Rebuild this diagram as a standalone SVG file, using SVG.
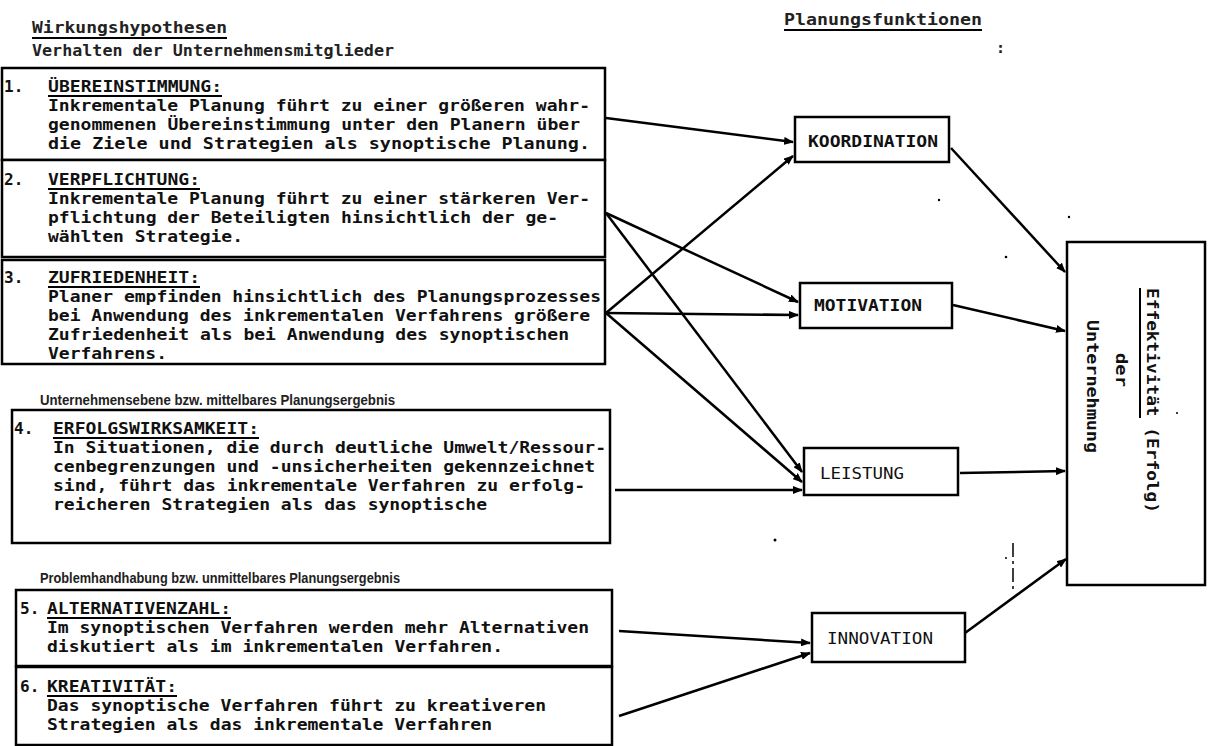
<svg xmlns="http://www.w3.org/2000/svg" width="1215" height="746" viewBox="0 0 1215 746">
<style>
.bg{fill:#fff}
.box{fill:#fff;stroke:#000;stroke-width:2.5}
.t{font-family:"DejaVu Sans Mono","Liberation Mono",monospace;font-weight:bold;font-size:16px;fill:#111}
.tn{font-family:"DejaVu Sans Mono","Liberation Mono",monospace;font-weight:normal;font-size:16px;fill:#111}
.h{font-family:"DejaVu Sans Mono","Liberation Mono",monospace;font-weight:bold;font-size:15px;fill:#222}
.sh{font-family:"Liberation Sans",Arial,sans-serif;font-weight:bold;font-size:14px;fill:#222}
.ul{stroke:#000;stroke-width:2}
.c{fill:none;stroke:#000;stroke-width:2.5;marker-end:url(#ah)}
</style>
<defs>
<marker id="ah" viewBox="0 0 10 8" refX="9" refY="4" markerWidth="10" markerHeight="8" markerUnits="userSpaceOnUse" orient="auto">
<path d="M0,0 L10,4 L0,8 z" fill="#000"/>
</marker>
</defs>
<rect class="bg" x="0" y="0" width="1215" height="746"/>

<g id="headings">
<text class="h" x="32" y="33" textLength="195" lengthAdjust="spacingAndGlyphs">Wirkungshypothesen</text>
<line class="ul" x1="32" y1="38" x2="227" y2="38"/>
<text class="h" x="32" y="56" textLength="362" lengthAdjust="spacingAndGlyphs">Verhalten der Unternehmensmitglieder</text>
<text class="h" x="784" y="25" textLength="198" lengthAdjust="spacingAndGlyphs">Planungsfunktionen</text>
<line class="ul" x1="784" y1="30" x2="982" y2="30"/>
<text class="h" x="996" y="53">:</text>
</g>

<g id="n1">
<rect class="box" x="2" y="68" width="603" height="92"/>
<text class="t" x="4" y="92">1.</text>
<text class="t" x="48" y="92" textLength="174" lengthAdjust="spacingAndGlyphs">ÜBEREINSTIMMUNG:</text>
<line class="ul" x1="48" y1="96" x2="222" y2="96"/>
<text class="t" x="48" y="111" textLength="542" lengthAdjust="spacingAndGlyphs">Inkrementale Planung führt zu einer größeren wahr-</text>
<text class="t" x="48" y="130" textLength="532" lengthAdjust="spacingAndGlyphs">genommenen Übereinstimmung unter den Planern über</text>
<text class="t" x="48" y="149" textLength="542" lengthAdjust="spacingAndGlyphs">die Ziele und Strategien als synoptische Planung.</text>
</g>

<g id="n2">
<rect class="box" x="2" y="160" width="603" height="97"/>
<text class="t" x="4" y="185">2.</text>
<text class="t" x="48" y="185" textLength="152" lengthAdjust="spacingAndGlyphs">VERPFLICHTUNG:</text>
<line class="ul" x1="48" y1="189" x2="200" y2="189"/>
<text class="t" x="48" y="204" textLength="542" lengthAdjust="spacingAndGlyphs">Inkrementale Planung führt zu einer stärkeren Ver-</text>
<text class="t" x="48" y="223" textLength="510" lengthAdjust="spacingAndGlyphs">pflichtung der Beteiligten hinsichtlich der ge-</text>
<text class="t" x="48" y="242" textLength="195" lengthAdjust="spacingAndGlyphs">wählten Strategie.</text>
</g>

<g id="n3">
<rect class="box" x="2" y="260" width="603" height="104"/>
<text class="t" x="4" y="283">3.</text>
<text class="t" x="48" y="283" textLength="152" lengthAdjust="spacingAndGlyphs">ZUFRIEDENHEIT:</text>
<line class="ul" x1="48" y1="287" x2="200" y2="287"/>
<text class="t" x="48" y="302" textLength="553" lengthAdjust="spacingAndGlyphs">Planer empfinden hinsichtlich des Planungsprozesses</text>
<text class="t" x="48" y="321" textLength="542" lengthAdjust="spacingAndGlyphs">bei Anwendung des inkrementalen Verfahrens größere</text>
<text class="t" x="48" y="340" textLength="521" lengthAdjust="spacingAndGlyphs">Zufriedenheit als bei Anwendung des synoptischen</text>
<text class="t" x="48" y="359" textLength="119" lengthAdjust="spacingAndGlyphs">Verfahrens.</text>
</g>

<g id="n4">
<text class="sh" x="40" y="405" textLength="355" lengthAdjust="spacingAndGlyphs">Unternehmensebene bzw. mittelbares Planungsergebnis</text>
<rect class="box" x="12" y="410" width="598" height="133"/>
<text class="t" x="14" y="434">4.</text>
<text class="t" x="53" y="434" textLength="206" lengthAdjust="spacingAndGlyphs">ERFOLGSWIRKSAMKEIT:</text>
<line class="ul" x1="53" y1="438" x2="259" y2="438"/>
<text class="t" x="53" y="453" textLength="553" lengthAdjust="spacingAndGlyphs">In Situationen, die durch deutliche Umwelt/Ressour-</text>
<text class="t" x="53" y="472" textLength="542" lengthAdjust="spacingAndGlyphs">cenbegrenzungen und -unsicherheiten gekennzeichnet</text>
<text class="t" x="53" y="491" textLength="532" lengthAdjust="spacingAndGlyphs">sind, führt das inkrementale Verfahren zu erfolg-</text>
<text class="t" x="53" y="510" textLength="434" lengthAdjust="spacingAndGlyphs">reicheren Strategien als das synoptische</text>
</g>

<g id="n5">
<text class="sh" x="40" y="583" textLength="360" lengthAdjust="spacingAndGlyphs">Problemhandhabung bzw. unmittelbares Planungsergebnis</text>
<rect class="box" x="16" y="590" width="596" height="76"/>
<text class="t" x="20" y="614">5.</text>
<text class="t" x="47" y="614" textLength="184" lengthAdjust="spacingAndGlyphs">ALTERNATIVENZAHL:</text>
<line class="ul" x1="47" y1="618" x2="231" y2="618"/>
<text class="t" x="47" y="633" textLength="542" lengthAdjust="spacingAndGlyphs">Im synoptischen Verfahren werden mehr Alternativen</text>
<text class="t" x="47" y="652" textLength="456" lengthAdjust="spacingAndGlyphs">diskutiert als im inkrementalen Verfahren.</text>
</g>

<g id="n6">
<rect class="box" x="16" y="667" width="596" height="78"/>
<text class="t" x="20" y="692">6.</text>
<text class="t" x="47" y="692" textLength="130" lengthAdjust="spacingAndGlyphs">KREATIVITÄT:</text>
<line class="ul" x1="47" y1="696" x2="177" y2="696"/>
<text class="t" x="47" y="711" textLength="499" lengthAdjust="spacingAndGlyphs">Das synoptische Verfahren führt zu kreativeren</text>
<text class="t" x="47" y="730" textLength="445" lengthAdjust="spacingAndGlyphs">Strategien als das inkrementale Verfahren</text>
</g>

<g id="koordination">
<rect class="box" x="795" y="117" width="154" height="45"/>
<text class="t" x="808" y="147" textLength="130" lengthAdjust="spacingAndGlyphs">KOORDINATION</text>
</g>
<g id="motivation">
<rect class="box" x="800" y="283" width="152" height="45"/>
<text class="t" x="814" y="311" textLength="108" lengthAdjust="spacingAndGlyphs">MOTIVATION</text>
</g>
<g id="leistung">
<rect class="box" x="804" y="448" width="154" height="47"/>
<text class="tn" x="820" y="479" textLength="84" lengthAdjust="spacingAndGlyphs">LEISTUNG</text>
</g>
<g id="innovation">
<rect class="box" x="812" y="613" width="153" height="49"/>
<text class="tn" x="827" y="644" textLength="106" lengthAdjust="spacingAndGlyphs">INNOVATION</text>
</g>

<g id="effektivitaet">
<rect class="box" x="1067" y="242" width="138" height="343"/>
<text class="t" transform="translate(1147,288) rotate(90)" textLength="225" lengthAdjust="spacingAndGlyphs">Effektivität (Erfolg)</text>
<line class="ul" x1="1140" y1="288" x2="1140" y2="418"/>
<text class="t" transform="translate(1116,353) rotate(90)" textLength="34" lengthAdjust="spacingAndGlyphs">der</text>
<text class="t" transform="translate(1087,320) rotate(90)" textLength="133" lengthAdjust="spacingAndGlyphs">Unternehmung</text>
</g>

<g id="connectors">
<path class="c" d="M606,118 L793,142"/>
<path class="c" d="M606,313 L793,156"/>
<path class="c" d="M606,213 L798,302"/>
<path class="c" d="M606,313 L798,315"/>
<path class="c" d="M606,213 L802,472"/>
<path class="c" d="M606,313 L802,482"/>
<path class="c" d="M615,490 L802,490"/>
<path class="c" d="M619,631 L810,643"/>
<path class="c" d="M619,716 L810,653"/>
<path class="c" d="M951,148 L1065,272"/>
<path class="c" d="M953,305 L1065,331"/>
<path class="c" d="M960,473 L1065,471"/>
<path class="c" d="M965,633 L1066,559"/>
</g>

<g id="marks">
<line x1="1013" y1="543" x2="1013" y2="592" stroke="#000" stroke-width="1.5" stroke-dasharray="14,4,3,4"/>
<circle cx="939" cy="200" r="1.2" fill="#000"/>
<circle cx="1069" cy="217" r="1.2" fill="#000"/>
<circle cx="1006" cy="257" r="1.3" fill="#000"/>
<circle cx="775" cy="540" r="1.5" fill="#000"/>
<circle cx="1006" cy="558" r="1" fill="#000"/>
<circle cx="1177" cy="413" r="1" fill="#000"/>
</g>
</svg>
